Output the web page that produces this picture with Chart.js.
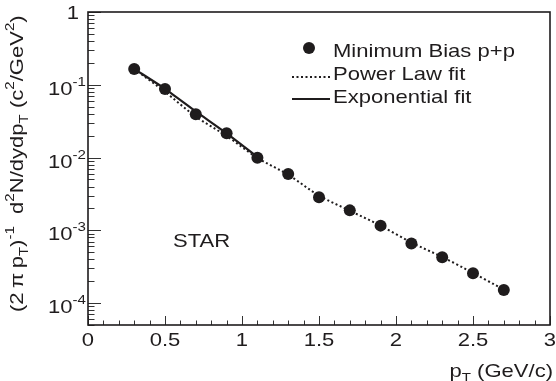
<!DOCTYPE html>
<html>
<head>
<meta charset="utf-8">
<script src="https://cdn.jsdelivr.net/npm/chart.js@4.4.1/dist/chart.umd.min.js"></script>
<style>
  html, body { margin: 0; padding: 0; background: #fff; }
</style>
</head>
<body>
<canvas id="chart" width="556" height="381"></canvas>
<script>
// measured spectrum, pT in GeV/c
const ptValues = [0.3, 0.5, 0.7, 0.9, 1.1, 1.3, 1.5, 1.7, 1.9, 2.1, 2.3, 2.5, 2.7];
const yieldValues = [0.165, 0.0875, 0.0393, 0.0215, 0.00995, 0.00594, 0.00284, 0.00188,
  0.00116, 0.00066, 0.000426, 0.000257, 0.000151];

// fit curves
const powerLawPt = [0.3, 0.5, 0.7, 0.9, 1.1, 1.3, 1.5, 1.7, 1.9, 2.1, 2.3, 2.5, 2.7];
const powerLawY = [0.165, 0.080, 0.0365, 0.0198, 0.0099, 0.0058, 0.0030, 0.00186,
  0.00116, 0.00068, 0.00043, 0.00026, 0.000153];
const expFitPt = [0.3, 0.5, 0.7, 0.9, 1.1];
const expFitY = [0.165, 0.088, 0.043, 0.0215, 0.0102];

// axis labels
const xTickValues = [0, 0.5, 1, 1.5, 2, 2.5, 3];
const xTickLabels = ["0", "0.5", "1", "1.5", "2", "2.5", "3"];
const yTickValues = [1, 0.1, 0.01, 0.001, 0.0001];
const yTickLabels = [["1", ""], ["10", "-1"], ["10", "-2"], ["10", "-3"], ["10", "-4"]];

const legendLabels = ["Minimum Bias p+p", "Power Law fit", "Exponential fit"];

const INK = "#1f1c1d";
const FONT = "'Liberation Sans', Arial, sans-serif";
const STRETCH = 1.16; // the original font runs wider than Arial

//draw text with sup (1) / sub (-1) pieces, optionally rotated
function richText(ctx, parts, x, y, align, angle) {
  ctx.save();
  ctx.translate(x, y);
  if (angle) ctx.rotate(angle);
  ctx.scale(STRETCH, 1);
  ctx.fillStyle = INK;
  ctx.textBaseline = "alphabetic";
  ctx.textAlign = "left";
  let total = 0;
  const widths = parts.map(([t, k]) => {
    ctx.font = (k ? 13 : 19) + "px " + FONT;
    const w = ctx.measureText(t).width;
    total += w;
    return w;
  });
  let cx = align === "right" ? -total : align === "center" ? -total / 2 : 0;
  parts.forEach(([t, k], i) => {
    ctx.font = (k ? 13 : 19) + "px " + FONT;
    const dy = k === 1 ? -9 : k === -1 ? 5 : 0;
    ctx.fillText(t, cx, dy);
    cx += widths[i];
  });
  ctx.restore();
}

const framePlugin = {
  id: "frame",
  afterDraw(chart) {
    const ctx = chart.ctx;
    const area = chart.chartArea;
    const xs = chart.scales.x;
    const ys = chart.scales.y;

    ctx.save();
    //ticks on left and bottom, pointing inward
    ctx.strokeStyle = "#333";
    ctx.lineWidth = 1;
    ctx.beginPath();
    for (let i = 0; i <= 30; i++) {
      const px = Math.round(xs.getPixelForValue(i / 10)) + 0.5;
      const len = i % 5 === 0 ? 9 : 4.5;
      ctx.moveTo(px, area.bottom);
      ctx.lineTo(px, area.bottom - len);
    }
    for (let e = -5; e <= 0; e++) {
      for (let m = 1; m <= 9; m++) {
        const v = m * Math.pow(10, e);
        if (v < ys.min * 0.999 || v > ys.max * 1.001) continue;
        const py = Math.round(ys.getPixelForValue(v)) + 0.5;
        const len = m === 1 ? 13 : 6.5;
        ctx.moveTo(area.left, py);
        ctx.lineTo(area.left + len, py);
      }
    }
    ctx.stroke();

    //frame
    ctx.strokeStyle = INK;
    ctx.lineWidth = 1.6;
    ctx.strokeRect(area.left, area.top, area.right - area.left, area.bottom - area.top);
    ctx.restore();

    //tick labels
    xTickValues.forEach((v, i) => {
      richText(ctx, [[xTickLabels[i], 0]], xs.getPixelForValue(v), 346, "center");
    });
    yTickValues.forEach((v, i) => {
      const py = ys.getPixelForValue(v);
      const [base, exp] = yTickLabels[i];
      if (exp) richText(ctx, [[base, 0], [exp, 1]], 86, py + 10, "right");
      else richText(ctx, [[base, 0]], 79, py + 7, "right");
    });

    //axis titles
    richText(ctx, [["p", 0], ["T", -1], [" (GeV/c)", 0]], 553, 377, "right");
    richText(ctx, [
      ["(2\u2009\u03c0\u2009p", 0], ["T", -1], [")", 0], ["-1", 1], ["  d", 0], ["2", 1],
      ["N/dydp", 0], ["T", -1], [" (c", 0], ["2", 1], ["/GeV", 0], ["2", 1], [")", 0]
    ], 23, 312, "left", -Math.PI / 2);

    richText(ctx, [["STAR", 0]], 173, 246.5, "left");

    //legend
    ctx.save();
    ctx.fillStyle = INK;
    ctx.beginPath();
    ctx.arc(309, 48, 6, 0, Math.PI * 2);
    ctx.fill();
    ctx.strokeStyle = INK;
    ctx.lineWidth = 2;
    ctx.setLineDash([2, 2.5]);
    ctx.beginPath();
    ctx.moveTo(292, 77);
    ctx.lineTo(330, 77);
    ctx.stroke();
    ctx.setLineDash([]);
    ctx.beginPath();
    ctx.moveTo(292, 99);
    ctx.lineTo(330, 99);
    ctx.stroke();
    ctx.restore();
    legendLabels.forEach((t, i) => {
      richText(ctx, [[t, 0]], 333, 56.5 + i * 23, "left");
    });
  },
};

new Chart(document.getElementById("chart"), {
  type: "scatter",
  data: {
    datasets: [
      {
        label: legendLabels[2],
        data: expFitPt.map((x, i) => ({ x: x, y: expFitY[i] })),
        showLine: true,
        borderColor: INK,
        borderWidth: 2.2,
        pointRadius: 0,
        tension: 0.2,
      },
      {
        label: legendLabels[1],
        data: powerLawPt.map((x, i) => ({ x: x, y: powerLawY[i] })),
        showLine: true,
        borderColor: INK,
        borderWidth: 2,
        borderDash: [2, 2.5],
        pointRadius: 0,
        tension: 0.3,
      },
      {
        label: legendLabels[0],
        data: ptValues.map((x, i) => ({ x: x, y: yieldValues[i] })),
        pointRadius: 6,
        pointBackgroundColor: INK,
        pointBorderWidth: 0,
      },
    ],
  },
  options: {
    responsive: false,
    animation: false,
    devicePixelRatio: 1,
    layout: { padding: { left: 88, top: 12, right: 4, bottom: 56 } },
    plugins: { legend: { display: false }, tooltip: { enabled: false } },
    scales: {
      x: { type: "linear", min: 0, max: 3, display: false },
      y: { type: "logarithmic", min: 5e-5, max: 1, display: false },
    },
  },
  plugins: [framePlugin],
});
</script>
</body>
</html>
